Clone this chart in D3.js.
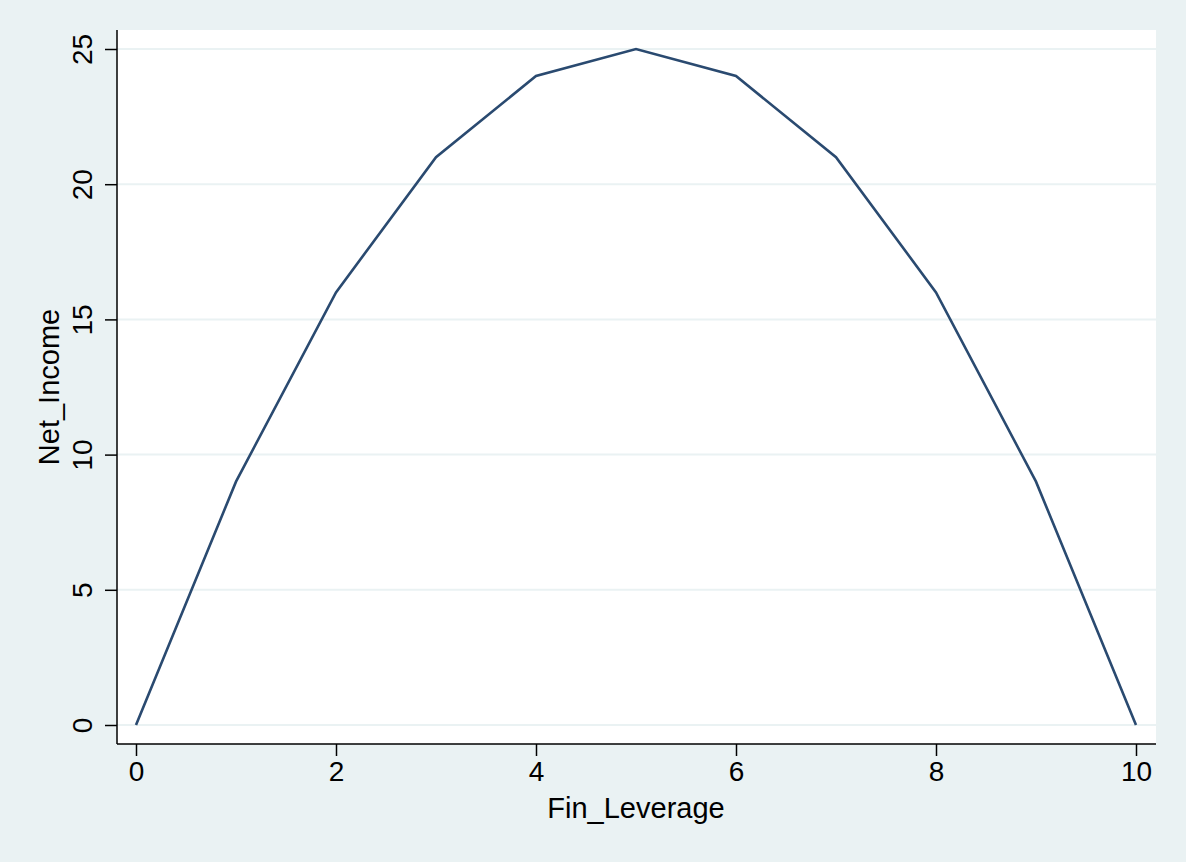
<!DOCTYPE html>
<html>
<head>
<meta charset="utf-8">
<script src="https://cdn.jsdelivr.net/npm/d3@7"></script>
<style>
  html, body { margin: 0; padding: 0; background: #eaf2f3; }
  svg text { font-family: "Liberation Sans", Arial, Helvetica, sans-serif; fill: #000; }
</style>
</head>
<body>
<div id="chart"></div>
<script>
// Data
const finLeverage = [0, 1, 2, 3, 4, 5, 6, 7, 8, 9, 10];
const netIncome = [0, 9, 16, 21, 24, 25, 24, 21, 16, 9, 0];
const xTicks = [0, 2, 4, 6, 8, 10];
const yTicks = [0, 5, 10, 15, 20, 25];

const W = 1186, H = 862;
// plot region (white box)
let box = {left: 117, right: 1156, top: 30, bottom: 744};

let xScale = d3.scaleLinear()
    .domain([0, 10])
    .range([136, 1136]);

let yScale = d3.scaleLinear()
    .domain([0, 25])
    .range([725, 49]);

let svg = d3.select('#chart').append('svg')
    .attr('width', W)
    .attr('height', H);

svg.append('rect')
    .attr('width', W).attr('height', H)
    .attr('fill', '#eaf2f3');

svg.append('rect')
    .attr('x', box.left).attr('y', box.top)
    .attr('width', box.right - box.left)
    .attr('height', box.bottom - box.top)
    .attr('fill', '#fff');

// gridlines
svg.append('g')
    .selectAll('line')
    .data(yTicks)
    .enter().append('line')
    .attr('x1', box.left).attr('x2', box.right)
    .attr('y1', d => yScale(d)).attr('y2', d => yScale(d))
    .attr('stroke', '#eaf2f3')
    .attr('stroke-width', 2);

// line
let line = d3.line()
    .x(function(d, i) { return xScale(finLeverage[i]); })
    .y(function(d) { return yScale(d); });

svg.append('path')
    .datum(netIncome)
    .attr('d', line)
    .attr('fill', 'none')
    .attr('stroke', '#2a4a70')
    .attr('stroke-width', 2.6)
    .attr('stroke-linejoin', 'miter');

// x axis
let xAxis = svg.append('g')
    .attr('transform', 'translate(0,' + box.bottom + ')')
    .call(d3.axisBottom(xScale).tickValues(xTicks).tickSize(12).tickPadding(5).tickSizeOuter(0));
xAxis.select('.domain').remove();
xAxis.append('line')
    .attr('x1', box.left).attr('x2', box.right)
    .attr('stroke', '#000').attr('stroke-width', 1.5);
xAxis.selectAll('.tick line').attr('stroke-width', 1.5);
xAxis.selectAll('.tick text')
    .style('font-size', '28px')
    .attr('fill', '#000');

// y axis
let yAxis = svg.append('g')
    .attr('transform', 'translate(' + box.left + ',0)')
    .call(d3.axisLeft(yScale).tickValues(yTicks).tickSize(12).tickSizeOuter(0));
yAxis.select('.domain').remove();
yAxis.append('line')
    .attr('y1', box.top).attr('y2', box.bottom)
    .attr('stroke', '#000').attr('stroke-width', 1.5);
yAxis.selectAll('.tick line').attr('stroke-width', 1.5);
yAxis.selectAll('.tick text')
    .attr('x', 0)
    .attr('y', -35)
    .attr('dy', 0)
    .attr('transform', 'rotate(-90)')
    .attr('text-anchor', 'middle')
    .attr('dominant-baseline', 'central')
    .style('font-size', '28px')
    .attr('fill', '#000');

// axis titles
svg.append('text')
    .attr('x', 636)
    .attr('y', 818)
    .attr('text-anchor', 'middle')
    .style('font-size', '29px')
    .text('Fin_Leverage');

svg.append('text')
    .attr('transform', 'translate(59,387) rotate(-90)')
    .attr('text-anchor', 'middle')
    .style('font-size', '29px')
    .text('Net_Income');
</script>
</body>
</html>
